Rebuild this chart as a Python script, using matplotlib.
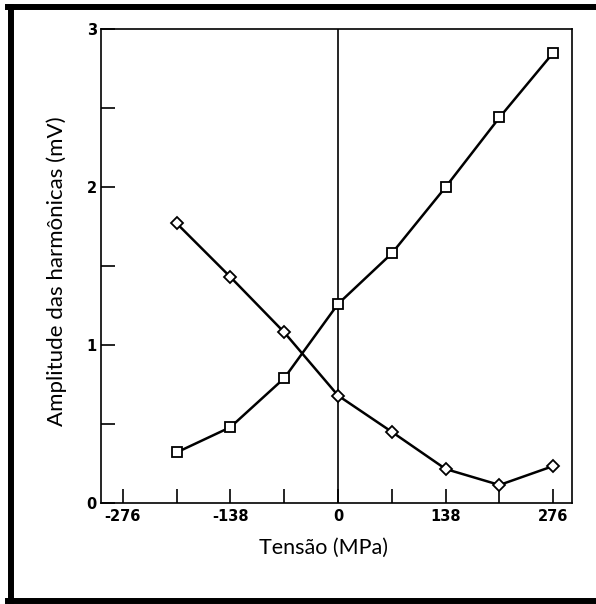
import matplotlib.pyplot as plt
from matplotlib.lines import Line2D

# Dados
tensao = [-207, -138, -69, 0, 69, 138, 207, 276]
amp_quadrados = [0.32, 0.48, 0.79, 1.26, 1.58, 2.00, 2.44, 2.85]
amp_losangos = [1.77, 1.43, 1.08, 0.68, 0.45, 0.215, 0.114, 0.234]

xticks_major = [-276, -138, 0, 138, 276]
xticks_minor = [-207, -69, 69, 207]
yticks_major = [0, 1, 2, 3]
yticks_minor = [0.5, 1.5, 2.5]

fig = plt.figure(figsize=(5.96, 6.04), dpi=100)
W, H = 596, 604
ax = fig.add_axes([101 / W, (H - 503) / H, (572 - 101) / W, (503 - 29) / H])

ax.plot(tensao, amp_quadrados, color='black', lw=1.8, marker='s', ms=7,
        mfc='white', mec='black', mew=1.3, zorder=3)
ax.plot(tensao, amp_losangos, color='black', lw=1.8, marker='D', ms=6.5,
        mfc='white', mec='black', mew=1.3, zorder=3)
ax.axvline(0, color='black', lw=1.2, zorder=2)

ax.set_xlim(-304, 300)
ax.set_ylim(0, 3)

ax.set_xticks(xticks_major)
ax.set_xticks(xticks_minor, minor=True)
ax.set_xticklabels([str(v) for v in xticks_major])
ax.set_yticks(yticks_major)
ax.set_yticks(yticks_minor, minor=True)
ax.set_yticklabels([str(v) for v in yticks_major])

ax.tick_params(which='both', direction='in', length=10, width=1.2,
               labelsize=10.5, pad=4)
ax.tick_params(axis='y', which='both', pad=3)
for lab in ax.get_xticklabels() + ax.get_yticklabels():
    lab.set_fontweight('bold')

for s in ax.spines.values():
    s.set_linewidth(1.2)

ax.set_xlabel('Tensão (MPa)', fontsize=15.5, family='Lato')
ax.set_ylabel('Amplitude das harmônicas (mV)', fontsize=16, family='Lato')
ax.xaxis.set_label_coords(0.472, -0.095)
ax.yaxis.set_label_coords(-0.093, 0.49)
ax.xaxis.label.set_va('center')
ax.yaxis.label.set_va('center')

# Moldura preta em volta da figura
lw = 4.3
fig.add_artist(Line2D([11 / W, 11 / W], [1 - 7 / H, 1 - 601 / H], color='black', lw=lw, transform=fig.transFigure))
fig.add_artist(Line2D([8 / W, 1.0], [1 - 7 / H, 1 - 7 / H], color='black', lw=lw, transform=fig.transFigure))
fig.add_artist(Line2D([8 / W, 1.0], [1 - 601 / H, 1 - 601 / H], color='black', lw=lw, transform=fig.transFigure))

fig.savefig('out.png', dpi=100)
